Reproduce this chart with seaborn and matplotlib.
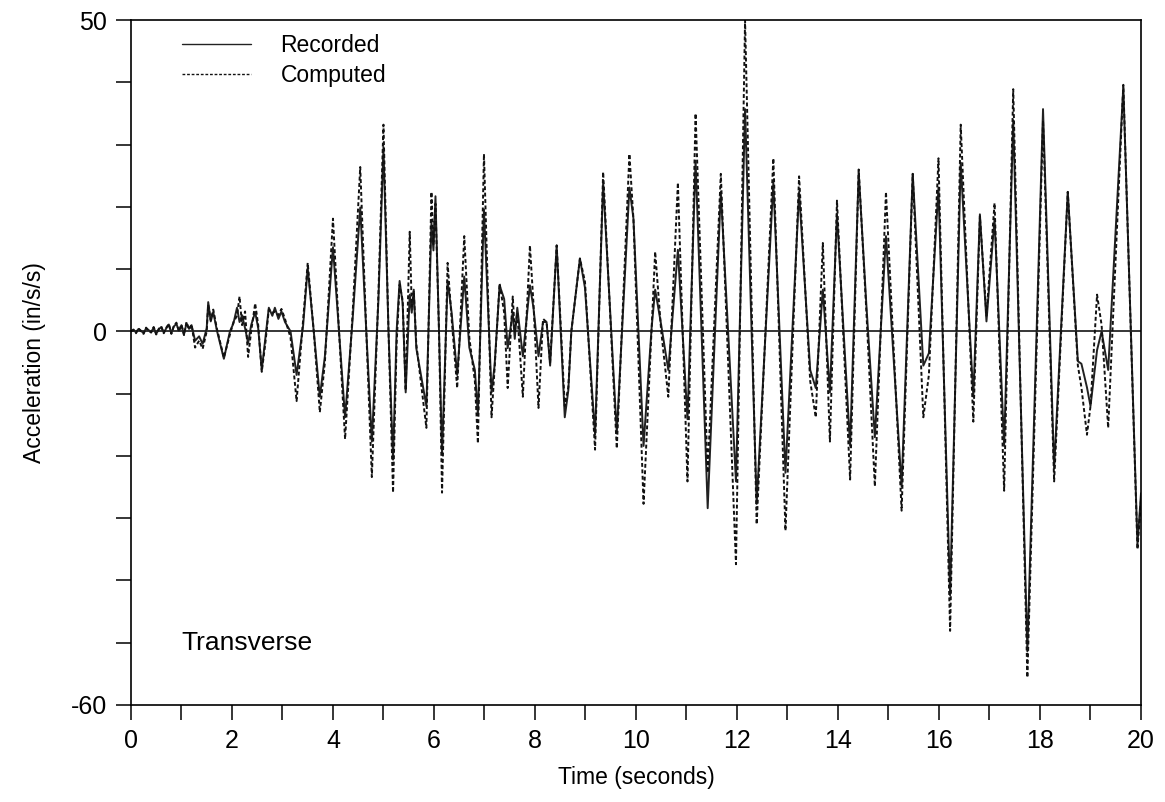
import numpy as np
import pandas as pd
import matplotlib
matplotlib.use("Agg")
import matplotlib.pyplot as plt
import seaborn as sns

# ---- data ----
time_s = [0.0, 0.05, 0.1, 0.15, 0.2, 0.25, 0.3, 0.35, 0.4, 0.45, 0.5, 0.55, 0.6,
          0.65, 0.7, 0.75, 0.8, 0.85, 0.9, 0.95, 1.0, 1.05, 1.1, 1.15, 1.2,
          1.27, 1.35, 1.42, 1.5, 1.53, 1.58, 1.63, 1.7, 1.84, 1.96, 2.03, 2.1, 2.15,
          2.2, 2.26, 2.32, 2.38, 2.46, 2.52, 2.59, 2.66, 2.73, 2.8, 2.85, 2.92, 2.98,
          3.05, 3.16, 3.28, 3.41, 3.5, 3.62, 3.74, 3.84, 4.0, 4.12, 4.24, 4.39, 4.54,
          4.66, 4.77, 4.9, 5.0, 5.1, 5.19, 5.26, 5.32, 5.38, 5.44, 5.52, 5.56, 5.6,
          5.65, 5.85, 5.95, 5.99, 6.03, 6.1, 6.16, 6.27, 6.35, 6.46, 6.6, 6.7, 6.81,
          6.87, 6.99, 7.14, 7.2, 7.3, 7.39, 7.46, 7.56, 7.6, 7.65, 7.76, 7.9, 7.97,
          8.07, 8.16, 8.23, 8.3, 8.43, 8.59, 8.66, 8.72, 8.89, 8.99, 9.19, 9.35, 9.62,
          9.87, 9.95, 10.15, 10.31, 10.38, 10.5, 10.64, 10.83, 11.02, 11.18, 11.42,
          11.68, 11.98, 12.16, 12.39, 12.72, 12.96, 13.23, 13.45, 13.56, 13.7, 13.84,
          13.98, 14.24, 14.41, 14.56, 14.73, 14.95, 15.26, 15.48, 15.69, 15.8, 15.99,
          16.22, 16.43, 16.68, 16.81, 16.94, 17.1, 17.29, 17.47, 17.75, 18.06, 18.28,
          18.55, 18.75, 18.82, 18.93, 19.0, 19.13, 19.22, 19.35, 19.65, 19.93, 20.0]

recorded = [0.0, 0.3, -0.2, 0.4, 0.1, -0.3, 0.5, 0.2, -0.1, 0.6, -0.4, 0.3, 0.7,
            -0.2, 0.5, 1.1, -0.3, 0.8, 1.2, 0.1, 1.0, -0.5, 1.3, 0.4, 1.0,
            -1.5, -0.8, -2.0, 0.5, 4.7, 1.6, 3.1, 0.2, -4.4, 0.0, 1.3, 3.8, 1.5,
            2.6, 0.5, -1.9, 1.0, 3.1, 0.5, -6.2, -1.2, 3.8, 2.5, 3.8, 2.0, 3.2,
            1.5, 0.0, -7.0, 1.0, 10.2, 0.0, -10.5, -4.0, 13.5, 0.0, -13.8, 2.0, 19.9,
            0.0, -17.7, 5.0, 29.6, 0.0, -20.6, 0.0, 8.1, 4.5, -9.8, 5.9, 3.0, 6.7,
            -2.7, -12.0, 17.4, 13.0, 21.7, 0.0, -19.8, 8.1, 3.0, -7.0, 8.8, -2.6, -6.2,
            -13.4, 19.6, -9.8, -5.5, 7.4, 5.2, -2.7, 3.1, -1.2, 3.8, -4.0, 7.4, 3.8,
            -4.0, 1.5, 1.5, -5.5, 13.8, -13.8, -9.5, 0.0, 11.7, 7.0, -16.6, 23.9, -16.3,
            23.1, 18.1, -18.4, 0.6, 6.7, 1.0, -6.2, 13.1, -14.1, 27.4, -28.4,
            22.4, -24.1, 35.7, -27.7, 23.9, -22.7, 22.4, -6.2, -9.1, 6.7, -9.8,
            18.8, -18.4, 25.6, 4.5, -17.0, 15.3, -24.9, 25.3, -5.5, -3.5, 23.1,
            -42.4, 27.1, -10.5, 18.8, 1.6, 18.1, -18.4, 33.9, -51.4, 35.7, -22.0,
            22.4, -4.8, -5.2, -9.0, -12.0, -3.0, 0.0, -6.2, 39.3, -34.2, -26.0]

computed = [0.0, 0.2, -0.3, 0.5, 0.0, -0.4, 0.6, 0.1, -0.2, 0.7, -0.5, 0.4, 0.8,
            -0.3, 0.6, 1.2, -0.4, 0.9, 1.4, 0.0, 1.1, -0.6, 1.5, 0.3, 1.1,
            -2.6, -1.5, -2.8, 0.0, 4.3, 1.8, 3.5, 0.5, -4.2, -0.5, 1.5, 2.5, 5.6,
            1.0, 3.2, -4.1, 0.0, 4.5, 1.0, -6.5, -2.0, 3.5, 3.0, 3.2, 2.6, 3.6,
            2.0, -1.0, -11.2, 2.0, 11.0, 0.0, -13.0, -5.0, 18.1, 0.0, -17.3, 3.0, 26.4,
            0.0, -23.4, 6.0, 33.2, 0.0, -25.9, -2.0, 7.5, 5.0, -9.5, 16.0, 4.0, 6.5,
            -2.0, -15.5, 22.4, 14.0, 20.5, 0.0, -25.9, 11.0, 2.0, -9.1, 15.3, -1.0, -8.0,
            -18.0, 28.5, -13.8, -6.0, 7.7, 3.0, -9.1, 5.6, 0.0, 3.0, -10.5, 13.8, 4.5,
            -12.3, 2.0, 1.5, -5.0, 13.8, -12.0, -9.0, 0.0, 11.7, 8.0, -19.0, 25.6, -18.8,
            28.5, 18.0, -27.7, 0.5, 12.8, 0.0, -10.5, 23.9, -24.1, 35.0, -22.7,
            25.3, -37.4, 50.0, -31.0, 27.8, -32.0, 24.9, -8.0, -13.8, 14.2, -17.7,
            21.0, -23.8, 26.0, 3.5, -24.9, 22.4, -28.8, 25.3, -13.8, -7.0, 27.8,
            -48.1, 33.2, -14.5, 18.5, 2.5, 20.6, -25.6, 38.9, -55.6, 33.9, -24.1,
            22.4, -5.5, -9.0, -16.6, -12.0, 5.9, 1.0, -15.5, 39.6, -35.0, -27.0]

series_names = ["Recorded", "Computed"]
x_ticks = list(range(0, 21))
x_labels = [str(v) if v % 2 == 0 else "" for v in x_ticks]
y_ticks = list(range(-60, 51, 10))
y_labels = [str(v) if v in (-60, 0, 50) else "" for v in y_ticks]

# ---- figure ----
sns.set_style("ticks")
plt.rcParams["font.family"] = ["Liberation Sans", "DejaVu Sans"]
plt.rcParams["text.color"] = "black"
plt.rcParams["axes.labelcolor"] = "black"
plt.rcParams["xtick.color"] = "black"
plt.rcParams["ytick.color"] = "black"

df = pd.DataFrame({
    "Time": time_s * 2,
    "Acceleration": recorded + computed,
    "Series": [series_names[0]] * len(time_s) + [series_names[1]] * len(time_s),
})

fig = plt.figure(figsize=(11.65, 8.02), dpi=100)
ax = fig.add_axes([0.1124, 0.121, 0.867, 0.854])

ax.axhline(0, color="black", lw=1.1, zorder=1)

sns.lineplot(data=df, x="Time", y="Acceleration", hue="Series", style="Series",
             palette={"Recorded": "#222222", "Computed": "#111111"},
             dashes={"Recorded": "", "Computed": (2.0, 1.3)},
             linewidth=1.4, ax=ax, legend=True, sort=False, estimator=None)
for ln in ax.get_lines():
    ln.set_solid_joinstyle("round")
    ln.set_dash_joinstyle("round")

ax.set_xlim(0, 20)
ax.set_ylim(-60, 50)
ax.set_xticks(x_ticks)
ax.set_xticklabels(x_labels, fontsize=18)
ax.set_yticks(y_ticks)
ax.set_yticklabels(y_labels, fontsize=18)
ax.tick_params(axis="both", direction="out", length=11, width=1.1,
               colors="black", labelcolor="black", pad=6)
for s in ax.spines.values():
    s.set_visible(True)
    s.set_linewidth(1.2)
    s.set_color("black")

ax.set_xlabel("Time (seconds)", fontsize=16.5, labelpad=10, color="black")
ax.set_ylabel("Acceleration (in/s/s)", fontsize=16.5, labelpad=18, color="black")

leg = ax.legend(loc="upper left", bbox_to_anchor=(0.03, 1.01), frameon=False,
                fontsize=16.5, handlelength=3.0, handletextpad=1.3, labelspacing=0.3)
for line in leg.get_lines():
    line.set_linewidth(1.0)
for txt in leg.get_texts():
    txt.set_color("black")

ax.text(0.05, 0.09, "Transverse", transform=ax.transAxes, fontsize=19,
        ha="left", va="center", color="black")

fig.savefig("out.png", dpi=100)
